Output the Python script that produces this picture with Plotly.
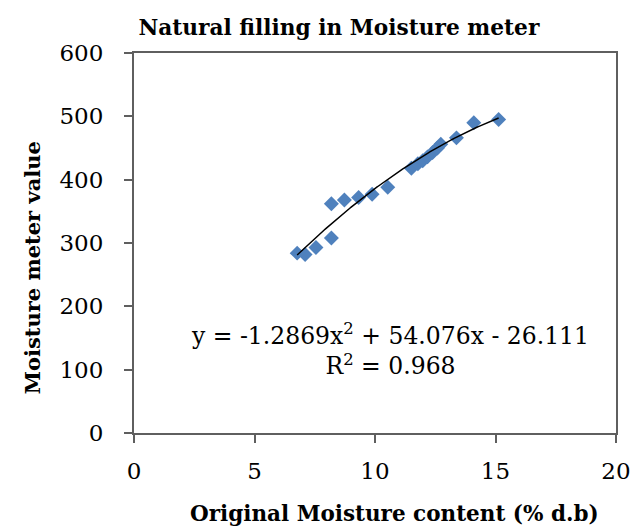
import numpy as np
import plotly.graph_objects as go

# Measured points: original moisture content (% d.b) vs. moisture meter reading
moisture_db = [6.77, 7.1, 7.55, 8.19, 8.19, 8.73, 9.32, 9.88, 10.53, 11.51,
               11.78, 11.98, 12.18, 12.39, 12.59, 12.73, 13.38, 14.1, 15.13]
meter_value = [284, 282, 293, 308, 362, 368, 372, 377, 388, 418,
               425, 430, 436, 443, 450, 456, 466, 490, 495]

# Second-order polynomial trendline coefficients
coef_a, coef_b, coef_c = -1.2869, 54.076, -26.111
r_squared = 0.968

x_fit = np.linspace(min(moisture_db), max(moisture_db), 200)
y_fit = coef_a * x_fit ** 2 + coef_b * x_fit + coef_c

serif = "DejaVu Serif"
axis_color = "#5f5f5f"

PLOT_L, PLOT_R, PLOT_T, PLOT_B = 134, 16, 53, 97
W, H = 643, 530


def px_to_paper(px, py):
    """Pixel position on the page -> paper fraction of the plot area."""
    return ((px - PLOT_L) / (W - PLOT_L - PLOT_R),
            (H - PLOT_B - py) / (H - PLOT_T - PLOT_B))


fig = go.Figure()
fig.add_trace(go.Scatter(
    x=moisture_db, y=meter_value, mode="markers",
    marker=dict(symbol="diamond", size=11.5, color="#4F81BD", line=dict(width=0)),
    showlegend=False,
))
fig.add_trace(go.Scatter(
    x=x_fit, y=y_fit, mode="lines",
    line=dict(color="black", width=1.5),
    showlegend=False,
))

# Trendline equation and fit quality
fig.add_annotation(
    x=10.62, y=132, xref="x", yref="y", showarrow=False,
    xanchor="center", yanchor="middle",
    text=(f"y = {coef_a}x<sup>2</sup> + {coef_b}x - {abs(coef_c)}"
          f"<br>R<sup>2</sup> = {r_squared}"),
    font=dict(family=serif, size=23.5, color="black"),
    align="center",
)

# Axis titles
xt_x, xt_y = px_to_paper(400, 513)
fig.add_annotation(
    x=xt_x, y=xt_y, xref="paper", yref="paper", showarrow=False,
    xanchor="center", yanchor="middle",
    text="<b>Original Moisture content (% d.b)</b>",
    font=dict(family=serif, size=21.5, color="black"),
)
yt_x, yt_y = px_to_paper(30, 268)
fig.add_annotation(
    x=yt_x, y=yt_y, xref="paper", yref="paper", showarrow=False,
    xanchor="center", yanchor="middle", textangle=-90,
    text="<b>Moisture meter value</b>",
    font=dict(family=serif, size=21, color="black"),
)

fig.update_layout(
    width=W, height=H,
    margin=dict(l=PLOT_L, r=PLOT_R, t=PLOT_T, b=PLOT_B),
    paper_bgcolor="white", plot_bgcolor="white",
    title=dict(
        text="<b>Natural filling in Moisture meter</b>",
        x=0.527, xanchor="center", y=0.948, yanchor="middle",
        font=dict(family=serif, size=21.7, color="black"),
    ),
)
fig.update_xaxes(
    range=[0, 20], dtick=5, showgrid=False, zeroline=False,
    showline=True, linecolor=axis_color, linewidth=2, mirror=True,
    ticks="outside", ticklen=8, tickcolor=axis_color, tickwidth=1.5,
    ticklabelstandoff=8,
    tickfont=dict(family=serif, size=23, color="black"),
)
fig.update_yaxes(
    range=[0, 600], dtick=100, showgrid=False, zeroline=False,
    showline=True, linecolor=axis_color, linewidth=2, mirror=True,
    ticks="outside", ticklen=8, tickcolor=axis_color, tickwidth=1.5,
    ticklabelstandoff=16,
    tickfont=dict(family=serif, size=23, color="black"),
)

fig.write_html("out.html")
